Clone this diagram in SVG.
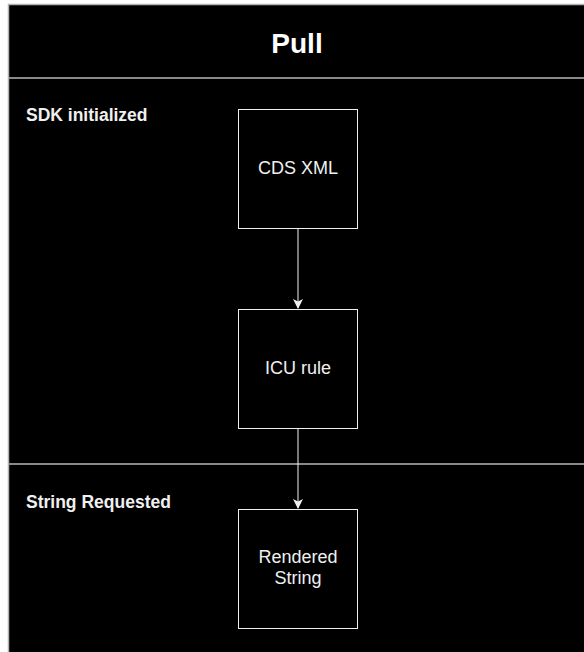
<svg xmlns="http://www.w3.org/2000/svg" width="584" height="652" viewBox="0 0 584 652">
<style>
.frame{fill:#000;stroke:#b3b3b3;stroke-width:1.5}
.div{stroke:#8a8a8a;stroke-width:2;fill:none}
.box{fill:#000;stroke:#f0f0f0;stroke-width:1}
.lbl{font-family:"Liberation Sans",Arial,sans-serif;font-size:18px;fill:#f0f0f0;text-anchor:middle}
.lane{font-family:"Liberation Sans",Arial,sans-serif;font-size:17.5px;font-weight:bold;fill:#f0f0f0}
.title{font-family:"Liberation Sans",Arial,sans-serif;font-size:28px;font-weight:bold;fill:#fff;text-anchor:middle}
.edge{stroke:#f0f0f0;stroke-width:1;fill:none}
</style>
<defs>
<marker id="arr" markerWidth="10" markerHeight="10" viewBox="0 0 10 10" refX="9" refY="5" orient="auto" markerUnits="userSpaceOnUse">
<path d="M0,0 L10,5 L0,10 L2.5,5 Z" fill="#f0f0f0"/>
</marker>
</defs>
<rect width="584" height="652" fill="#fff"/>
<g id="pool">
<rect class="frame" x="8.5" y="4.5" width="590" height="660"/>
<text class="title" x="297" y="53">Pull</text>
<line class="div" x1="9" y1="78" x2="584" y2="78"/>
<line class="div" x1="9" y1="464" x2="584" y2="464"/>
</g>
<g id="lane-sdk"><text class="lane" x="26" y="121">SDK initialized</text></g>
<g id="lane-string"><text class="lane" x="26" y="508">String Requested</text></g>
<g id="connectors">
<line class="edge" x1="298" y1="228" x2="298" y2="308" marker-end="url(#arr)"/>
<line class="edge" x1="298" y1="428" x2="298" y2="508" marker-end="url(#arr)"/>
</g>
<g id="cds-xml">
<rect class="box" x="238.5" y="109.5" width="119" height="119"/>
<text class="lbl" x="298" y="174">CDS XML</text>
</g>
<g id="icu-rule">
<rect class="box" x="238.5" y="309.5" width="119" height="119"/>
<text class="lbl" x="298" y="374">ICU rule</text>
</g>
<g id="rendered-string">
<rect class="box" x="238.5" y="509.5" width="119" height="119"/>
<text class="lbl" x="298" y="563">Rendered</text>
<text class="lbl" x="298" y="584">String</text>
</g>
</svg>
